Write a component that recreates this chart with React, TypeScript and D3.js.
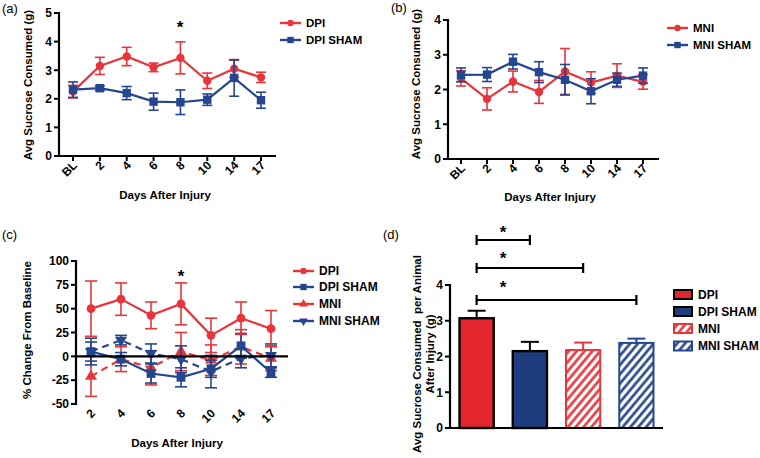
import React from "react";
import * as d3 from "d3";

// ---------- data ----------
const daysAB = ["BL", "2", "4", "6", "8", "10", "14", "17"];
const daysC = ["2", "4", "6", "8", "10", "14", "17"];

const aDPI = [2.25, 3.15, 3.48, 3.1, 3.43, 2.63, 3.05, 2.75];
const aDPIErr = [0.22, 0.3, 0.32, 0.15, 0.56, 0.27, 0.3, 0.18];
const aSHAM = [2.32, 2.37, 2.2, 1.9, 1.88, 1.97, 2.73, 1.95];
const aSHAMErr = [0.27, 0.08, 0.23, 0.3, 0.43, 0.2, 0.64, 0.28];

const bMNI = [2.32, 1.73, 2.23, 1.93, 2.52, 2.2, 2.4, 2.22];
const bMNIErr = [0.22, 0.32, 0.3, 0.33, 0.66, 0.31, 0.34, 0.21];
const bSHAM = [2.42, 2.43, 2.8, 2.5, 2.28, 1.95, 2.28, 2.4];
const bSHAMErr = [0.2, 0.2, 0.21, 0.3, 0.44, 0.36, 0.19, 0.22];

const cDPI = [50, 60, 43, 55, 22, 40, 29];
const cDPIErr = [29, 17, 14, 22, 18, 17, 19];
const cDPISHAM = [5, -3, -18, -22, -13, 11, -17];
const cDPISHAMErr = [14, 7, 10, 10, 9, 13, 5];
const cMNI = [-21, -3, -12, 5, -4, 10, -2];
const cMNIErr = [21, 13, 18, 20, 16, 18, 13];
const cMNISHAM = [5, 17, 3, -3, -16, -2, 1];
const cMNISHAMErr = [10, 5, 10, 14, 17, 10, 12];

const dGroups = ["DPI", "DPI SHAM", "MNI", "MNI SHAM"];
const dValues = [3.07, 2.15, 2.18, 2.38];
const dErr = [0.21, 0.26, 0.21, 0.12];

const ticksA = [0, 1, 2, 3, 4, 5];
const ticksB = [0, 1, 2, 3, 4];
const ticksC = [-50, -25, 0, 25, 50, 75, 100];
const ticksD = [0, 1, 2, 3, 4];

// ---------- style ----------
const RED = "#e8353b";
const BLUE = "#24468e";
const BLUE_BAR = "#1f3d7e";
const FONT = "'Liberation Sans', Arial, Helvetica, sans-serif";
const TICK_FS = 12;

type MarkerType = "circle" | "square" | "triUp" | "triDown";

function Marker({ type, x, y, s, color }: { type: MarkerType; x: number; y: number; s: number; color: string }) {
  const symType =
    type === "circle" ? d3.symbolCircle : type === "square" ? d3.symbolSquare : d3.symbolTriangle;
  const area = type === "circle" ? Math.PI * s * s : type === "square" ? 4 * s * s : 3.2 * s * s;
  const d = d3.symbol().type(symType).size(area)() || "";
  const rot = type === "triDown" ? 180 : 0;
  return <path d={d} fill={color} transform={`translate(${x},${y}) rotate(${rot})`} />;
}

interface Series {
  name: string;
  values: number[];
  errs: number[];
  color: string;
  marker: MarkerType;
  dashed?: boolean;
}

interface LinePanelProps {
  cats: string[];
  series: Series[];
  axisX: number;
  axisEnd: number;
  ptFirst: number;
  ptLast: number;
  yDomain: [number, number];
  yRange: [number, number];
  yTicks: number[];
  hLineY: number;
  labelY: number;
  xTicks: boolean;
  capW: number;
  mSize: number;
}

function LinePanel(p: LinePanelProps) {
  const x = d3.scalePoint<string>().domain(p.cats).range([p.ptFirst, p.ptLast]);
  const y = d3.scaleLinear().domain(p.yDomain).range(p.yRange);
  const hy = y(p.hLineY);
  return (
    <g>
      {p.series.map((s) => {
        const line = d3
          .line<number>()
          .x((_, i) => x(p.cats[i]) as number)
          .y((v) => y(v));
        return (
          <g key={s.name}>
            {s.values.map((v, i) => {
              const cx = x(p.cats[i]) as number;
              const t = y(v + s.errs[i]);
              const b = y(v - s.errs[i]);
              return (
                <g key={i} stroke={s.color} strokeWidth={1.6}>
                  <line x1={cx} x2={cx} y1={t} y2={b} />
                  <line x1={cx - p.capW / 2} x2={cx + p.capW / 2} y1={t} y2={t} />
                  <line x1={cx - p.capW / 2} x2={cx + p.capW / 2} y1={b} y2={b} />
                </g>
              );
            })}
            <path
              d={line(s.values) || ""}
              fill="none"
              stroke={s.color}
              strokeWidth={2.2}
              strokeDasharray={s.dashed ? "7,5" : undefined}
            />
            {s.values.map((v, i) => (
              <Marker key={i} type={s.marker} x={x(p.cats[i]) as number} y={y(v)} s={p.mSize} color={s.color} />
            ))}
          </g>
        );
      })}
      <line x1={p.axisX} x2={p.axisX} y1={p.yRange[1] - 1} y2={p.yRange[0] + 1} stroke="#000" strokeWidth={2.2} />
      <line x1={p.axisX - 1} x2={p.axisEnd} y1={hy} y2={hy} stroke="#000" strokeWidth={2.2} />
      {p.yTicks.map((t) => (
        <g key={t}>
          <line x1={p.axisX - 5} x2={p.axisX} y1={y(t)} y2={y(t)} stroke="#000" strokeWidth={2} />
          <text x={p.axisX - 7} y={y(t) + 4.3} textAnchor="end" fontSize={TICK_FS} fontWeight="bold" fontFamily={FONT}>
            {t}
          </text>
        </g>
      ))}
      {p.cats.map((c) => {
        const cx = x(c) as number;
        return (
          <g key={c}>
            {p.xTicks && <line x1={cx} x2={cx} y1={hy} y2={hy + 5} stroke="#000" strokeWidth={2} />}
            <text
              transform={`translate(${cx + 5},${p.labelY}) rotate(-45)`}
              textAnchor="end"
              fontSize={TICK_FS}
              fontWeight="bold"
              fontFamily={FONT}
            >
              {c}
            </text>
          </g>
        );
      })}
    </g>
  );
}

function LineLegend({ x, ys, series, size }: { x: number; ys: number[]; series: Series[]; size: number }) {
  return (
    <g>
      {series.map((s, i) => (
        <g key={s.name}>
          <line x1={x} x2={x + 21} y1={ys[i]} y2={ys[i]} stroke={s.color} strokeWidth={2.4} />
          <Marker type={s.marker} x={x + 10.5} y={ys[i]} s={3.2} color={s.color} />
          <text x={x + 26} y={ys[i] + 4.3} fontSize={size} fontWeight="bold" fontFamily={FONT}>
            {s.name}
          </text>
        </g>
      ))}
    </g>
  );
}

function Star({ x, y }: { x: number; y: number }) {
  return (
    <text x={x} y={y} textAnchor="middle" fontSize={17} fontWeight="bold" fontFamily={FONT}>
      *
    </text>
  );
}

function Title({ x, y, text, rotate }: { x: number; y: number; text: string; rotate?: boolean }) {
  return (
    <text
      transform={rotate ? `translate(${x},${y}) rotate(-90)` : `translate(${x},${y})`}
      textAnchor="middle"
      fontSize={11.5}
      fontWeight="bold"
      fontFamily={FONT}
    >
      {text}
    </text>
  );
}

export default function App() {
  const seriesA: Series[] = [
    { name: "DPI", values: aDPI, errs: aDPIErr, color: RED, marker: "circle" },
    { name: "DPI SHAM", values: aSHAM, errs: aSHAMErr, color: BLUE, marker: "square" },
  ];
  const seriesB: Series[] = [
    { name: "MNI", values: bMNI, errs: bMNIErr, color: RED, marker: "circle" },
    { name: "MNI SHAM", values: bSHAM, errs: bSHAMErr, color: BLUE, marker: "square" },
  ];
  const seriesC: Series[] = [
    { name: "DPI", values: cDPI, errs: cDPIErr, color: RED, marker: "circle" },
    { name: "DPI SHAM", values: cDPISHAM, errs: cDPISHAMErr, color: BLUE, marker: "square" },
    { name: "MNI", values: cMNI, errs: cMNIErr, color: RED, marker: "triUp", dashed: true },
    { name: "MNI SHAM", values: cMNISHAM, errs: cMNISHAMErr, color: BLUE, marker: "triDown", dashed: true },
  ];
  const drawC = [seriesC[2], seriesC[3], seriesC[1], seriesC[0]];

  const xd = d3.scaleBand<string>().domain(dGroups).range([450, 663]).paddingInner(0.32).paddingOuter(0.16);
  const yd = d3.scaleLinear().domain([0, 4]).range([428, 285]);
  const barFill = ["#e3262d", BLUE_BAR, "url(#hatchRed)", "url(#hatchBlue)"];
  const barStroke = ["#000", "#000", RED, BLUE];
  const errStroke = ["#000", "#000", RED, BLUE];
  const brackets = [
    { to: "DPI SHAM", y: 240, star: 238 },
    { to: "MNI", y: 268, star: 264 },
    { to: "MNI SHAM", y: 300, star: 293 },
  ];
  const bx0 = (xd("DPI") as number) + xd.bandwidth() / 2;

  return (
    <svg width={760} height={458} style={{ position: "absolute", left: 0, top: 0, background: "#fff" }}>
      <defs>
        <pattern id="hatchRed" width={6} height={6} patternUnits="userSpaceOnUse" patternTransform="rotate(40)">
          <rect width={6} height={6} fill="#fff" />
          <line x1={1.5} x2={1.5} y1={0} y2={6} stroke={RED} strokeWidth={2.6} />
        </pattern>
        <pattern id="hatchBlue" width={6} height={6} patternUnits="userSpaceOnUse" patternTransform="rotate(40)">
          <rect width={6} height={6} fill="#fff" />
          <line x1={1.5} x2={1.5} y1={0} y2={6} stroke={BLUE} strokeWidth={2.6} />
        </pattern>
      </defs>
      <rect width={760} height={458} fill="#fff" />

      <text x={2} y={13} fontSize={13} fontFamily={FONT}>(a)</text>
      <text x={391} y={12} fontSize={13} fontFamily={FONT}>(b)</text>
      <text x={2} y={239} fontSize={13} fontFamily={FONT}>(c)</text>
      <text x={383} y={239} fontSize={13} fontFamily={FONT}>(d)</text>

      {/* panel a */}
      <LinePanel
        cats={daysAB}
        series={seriesA}
        axisX={59}
        axisEnd={276}
        ptFirst={73}
        ptLast={261}
        yDomain={[0, 5]}
        yRange={[156, 13]}
        yTicks={ticksA}
        hLineY={0}
        labelY={166}
        xTicks={true}
        capW={10}
        mSize={4.2}
      />
      <LineLegend x={280} ys={[23, 40]} series={seriesA} size={11.5} />
      <Star x={180} y={33} />
      <Title x={32} y={85} text="Avg Sucrose Consumed (g)" rotate />
      <Title x={165} y={199} text="Days After Injury" />

      {/* panel b */}
      <LinePanel
        cats={daysAB}
        series={seriesB}
        axisX={448}
        axisEnd={659}
        ptFirst={461}
        ptLast={643}
        yDomain={[0, 4]}
        yRange={[159, 20]}
        yTicks={ticksB}
        hLineY={0}
        labelY={169}
        xTicks={true}
        capW={10}
        mSize={4.2}
      />
      <LineLegend x={667} ys={[28, 45]} series={seriesB} size={11.5} />
      <Title x={420} y={84} text="Avg Sucrose Consumed (g)" rotate />
      <Title x={550} y={201} text="Days After Injury" />

      {/* panel c */}
      <LinePanel
        cats={daysC}
        series={drawC}
        axisX={76}
        axisEnd={288}
        ptFirst={91}
        ptLast={271}
        yDomain={[-50, 100]}
        yRange={[404, 261]}
        yTicks={ticksC}
        hLineY={0}
        labelY={414}
        xTicks={false}
        capW={12}
        mSize={4.4}
      />
      <LineLegend x={293} ys={[271, 287, 304, 321]} series={seriesC} size={12} />
      <Star x={181} y={282} />
      <Title x={31} y={330} text="% Change From Baseline" rotate />
      <Title x={177} y={447} text="Days After Injury" />

      {/* panel d */}
      <g>
        {dGroups.map((g, i) => {
          const bx = xd(g) as number;
          const cx = bx + xd.bandwidth() / 2;
          const top = yd(dValues[i]);
          const et = yd(dValues[i] + dErr[i]);
          return (
            <g key={g}>
              <line x1={cx} x2={cx} y1={top} y2={et} stroke={errStroke[i]} strokeWidth={2} />
              <line x1={cx - 9} x2={cx + 9} y1={et} y2={et} stroke={errStroke[i]} strokeWidth={2} />
              <rect
                x={bx + 1}
                y={top}
                width={xd.bandwidth() - 2}
                height={yd(0) - top}
                fill={barFill[i]}
                stroke={barStroke[i]}
                strokeWidth={i < 2 ? 2.4 : 2}
              />
            </g>
          );
        })}
        <line x1={450} x2={450} y1={284} y2={429} stroke="#000" strokeWidth={2.2} />
        <line x1={449} x2={663} y1={yd(0)} y2={yd(0)} stroke="#000" strokeWidth={2.2} />
        {ticksD.map((t) => (
          <g key={t}>
            <line x1={445} x2={450} y1={yd(t)} y2={yd(t)} stroke="#000" strokeWidth={2} />
            <text x={443} y={yd(t) + 4.3} textAnchor="end" fontSize={TICK_FS} fontWeight="bold" fontFamily={FONT}>
              {t}
            </text>
          </g>
        ))}
        {brackets.map((b) => {
          const x2 = (xd(b.to) as number) + xd.bandwidth() / 2;
          return (
            <g key={b.to} stroke="#000" strokeWidth={2.2}>
              <line x1={bx0} x2={x2} y1={b.y} y2={b.y} />
              <line x1={bx0} x2={bx0} y1={b.y - 5} y2={b.y + 5} />
              <line x1={x2} x2={x2} y1={b.y - 5} y2={b.y + 5} />
            </g>
          );
        })}
        {brackets.map((b) => (
          <Star key={b.to} x={503} y={b.star} />
        ))}
        <text transform="translate(421,354) rotate(-90)" textAnchor="middle" fontSize={11.5} fontWeight="bold" fontFamily={FONT} style={{ whiteSpace: "pre" }}>
          Avg Sucrose Consumed  per Animal
        </text>
        <text transform="translate(434,354) rotate(-90)" textAnchor="middle" fontSize={11.5} fontWeight="bold" fontFamily={FONT}>
          After Injury (g)
        </text>
        {dGroups.map((g, i) => {
          const cy = [294.5, 311.5, 328.5, 346][i];
          return (
            <g key={g}>
              <rect x={674} y={cy - 4.5} width={18} height={9} fill={barFill[i]} stroke={barStroke[i]} strokeWidth={2} />
              <text x={698} y={cy + 4.3} fontSize={12} fontWeight="bold" fontFamily={FONT}>
                {g}
              </text>
            </g>
          );
        })}
      </g>
    </svg>
  );
}
